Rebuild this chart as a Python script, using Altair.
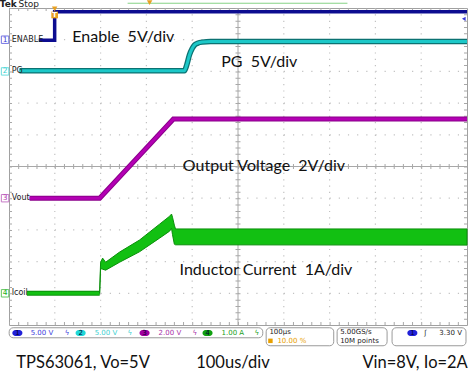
import altair as alt
import pandas as pd

# ---------------- data: time in µs (100 µs/div, trigger at 10 %) ----------------
# CH1 ENABLE (V)  5 V/div, ground marker at +4 div
en_t = [-35, -0.3, -0.3, 900]
en_v = [-0.1, -0.1, 4.4, 4.4]
# CH2 PG (V)  5 V/div, ground marker at +3 div
pg_t = [-77, 283, 288, 294, 300, 305, 312, 322, 340, 900]
pg_v = [0.1, 0.1, 1.0, 2.6, 3.6, 4.15, 4.45, 4.62, 4.7, 4.72]
# CH3 Vout (V)  2 V/div, ground marker at -1 div
vo_t = [-55, 98, 259, 900]
vo_v = [0.0, 0.0, 5.0, 5.0]
# CH4 Icoil (A)  1 A/div, ground marker at -4 div
il_flat_t = [-61, 98]
il_flat_v = [0.0, 0.0]
il_t = [97.9, 100, 104.4, 111, 141.5, 185, 228.7, 250.6, 254.9, 257, 261, 263.6, 900]
il_hi = [0.0, 0.98, 1.11, 0.98, 1.30, 1.68, 2.18, 2.43, 2.50, 2.40, 2.15, 2.03, 2.03]
il_lo = [0.0, 0.78, 0.76, 0.73, 0.98, 1.31, 1.74, 1.96, 2.05, 1.85, 1.55, 1.53, 1.52]

ch_names = ["ENABLE", "PG", "Vout", "Icoil"]
ch_nums = ["1", "2", "3", "4"]
ch_offset = [4, 3, -1, -4]
ch_scale = [5.0, 5.0, 2.0, 1.0]
ch_color = ["#1414a8", "#1cc8c8", "#b400b4", "#12c012"]
ch_label_color = ["#3a3ad8", "#30d0d0", "#b040b0", "#20b020"]
ch_readout = ["5.00 V", "5.00 V", "2.00 V", "1.00 A"]

ann_text = ["Enable\u00a0 5V/div", "PG\u00a0 5V/div", "Output Voltage\u00a0 2V/div",
            "Inductor Current\u00a0 1A/div"]
ann_t = [38.3, 363.3, 279.6, 272.4]
ann_d = [3.94, 3.15, -0.14, -3.43]

cap_text = ["TPS63061, Vo=5V", "100us/div", "Vin=8V, Io=2A"]
cap_t = [-83.9, 308.8, 671.6]
cap_d = [-6.37, -6.37, -6.37]

grid_t = [0, 100, 200, 300, 500, 600, 700, 800]
grid_d = [-4, -3, -2, -1, 1, 2, 3, 4]

# ---------------- scales ----------------
XS = alt.Scale(domain=[-100, 900], nice=False, zero=False)
YS = alt.Scale(domain=[-5, 5], nice=False, zero=False)


def X(field=None, datum=None):
    if datum is not None:
        return alt.X(datum=datum, scale=XS, axis=None)
    return alt.X(field, type="quantitative", scale=XS, axis=None)


def X2(field=None, datum=None):
    if datum is not None:
        return alt.X2(datum=datum)
    return alt.X2(field)


def Y(field=None, datum=None):
    if datum is not None:
        return alt.Y(datum=datum, scale=YS, axis=None)
    return alt.Y(field, type="quantitative", scale=YS, axis=None)


def Y2(field=None, datum=None):
    if datum is not None:
        return alt.Y2(datum=datum)
    return alt.Y2(field)


def to_div(vals, ch):
    return [ch_offset[ch] + v / ch_scale[ch] for v in vals]


layers = []
GRID = "#c2c2c2"
CENTER = "#a8a8a8"
DX = 9.16   # px per 0.2 div horizontally
DY = 6.34   # px per 0.2 div vertically

# dotted graticule
gv = pd.DataFrame({"t": grid_t})
gh = pd.DataFrame({"d": grid_d})
layers.append(alt.Chart(gv).mark_rule(stroke=GRID, strokeWidth=1.2, strokeDash=[1.2, DY - 1.2])
              .encode(x=X("t"), y=Y(datum=5), y2=Y2(datum=-5)))
layers.append(alt.Chart(gh).mark_rule(stroke=GRID, strokeWidth=1.2, strokeDash=[1.2, DX - 1.2])
              .encode(y=Y("d"), x=X(datum=-100), x2=X2(datum=900)))
# centre lines with minor ticks
cen = pd.DataFrame({"t": [400], "d": [0]})
layers.append(alt.Chart(cen).mark_rule(stroke=CENTER, strokeWidth=1)
              .encode(x=X("t"), y=Y(datum=5), y2=Y2(datum=-5)))
layers.append(alt.Chart(cen).mark_rule(stroke=CENTER, strokeWidth=1)
              .encode(y=Y("d"), x=X(datum=-100), x2=X2(datum=900)))
layers.append(alt.Chart(cen).mark_rule(stroke=CENTER, strokeWidth=5, strokeDash=[1, DY - 1])
              .encode(x=X("t"), y=Y(datum=5), y2=Y2(datum=-5)))
layers.append(alt.Chart(cen).mark_rule(stroke=CENTER, strokeWidth=5, strokeDash=[1, DX - 1])
              .encode(y=Y("d"), x=X(datum=-100), x2=X2(datum=900)))
# border ticks (inside)
bh = pd.DataFrame({"d": [4.953, -4.953]})
bv = pd.DataFrame({"t": [-96.7, 896.7]})
layers.append(alt.Chart(bh).mark_rule(stroke=CENTER, strokeWidth=3, strokeDash=[1, DX - 1])
              .encode(y=Y("d"), x=X(datum=-100), x2=X2(datum=900)))
layers.append(alt.Chart(bv).mark_rule(stroke=CENTER, strokeWidth=3, strokeDash=[1, DY - 1])
              .encode(x=X("t"), y=Y(datum=5), y2=Y2(datum=-5)))

# ---------------- traces ----------------
en = pd.DataFrame({"t": en_t, "d": to_div(en_v, 0)})
pg = pd.DataFrame({"t": pg_t, "d": to_div(pg_v, 1)})
vo = pd.DataFrame({"t": vo_t, "d": to_div(vo_v, 2)})
ilf = pd.DataFrame({"t": il_flat_t, "d": to_div(il_flat_v, 3)})
il = pd.DataFrame({"t": il_t, "hi": to_div(il_hi, 3), "lo": to_div(il_lo, 3)})

layers.append(alt.Chart(en).mark_line(color="#0c0c90", strokeWidth=3.5)
              .encode(x=X("t"), y=Y("d")))
layers.append(alt.Chart(pg).mark_line(color="#0b7272", strokeWidth=5.5, interpolate="monotone")
              .encode(x=X("t"), y=Y("d")))
layers.append(alt.Chart(pg).mark_line(color=ch_color[1], strokeWidth=3, interpolate="monotone")
              .encode(x=X("t"), y=Y("d")))
layers.append(alt.Chart(vo).mark_line(color="#8a008a", strokeWidth=5)
              .encode(x=X("t"), y=Y("d")))
layers.append(alt.Chart(vo).mark_line(color=ch_color[2], strokeWidth=3)
              .encode(x=X("t"), y=Y("d")))
layers.append(alt.Chart(ilf).mark_line(color="#0b8f0b", strokeWidth=5)
              .encode(x=X("t"), y=Y("d")))
layers.append(alt.Chart(ilf).mark_line(color=ch_color[3], strokeWidth=3)
              .encode(x=X("t"), y=Y("d")))
layers.append(alt.Chart(il).mark_area(color=ch_color[3], stroke="#0b8f0b", strokeWidth=1)
              .encode(x=X("t"), y=Y("hi"), y2=Y2("lo")))

# ---------------- annotations ----------------
ann = pd.DataFrame({"t": ann_t, "d": ann_d, "text": ann_text})
layers.append(alt.Chart(ann).mark_text(font="Lato", fontSize=16, align="left", baseline="alphabetic",
                                       color="#111111")
              .encode(x=X("t"), y=Y("d"), text="text:N"))
cap = pd.DataFrame({"t": cap_t, "d": cap_d, "text": cap_text})
layers.append(alt.Chart(cap).mark_text(font="Lato", fontSize=16.5, align="left",
                                       baseline="alphabetic", color="#111111")
              .encode(x=X("t"), y=Y("d"), text="text:N"))

# channel ground markers & labels on the left
lab = pd.DataFrame({
    "t": [-108.6] * 4,
    "tl": [-94.1] * 4,
    "d": [ch_offset[i] for i in range(4)],
    "num": ch_nums, "name": ch_names, "color": ch_label_color,
})
layers.append(alt.Chart(lab).mark_point(shape="square", size=55, filled=True, fill="white",
                                        strokeWidth=1)
              .encode(x=X("t"), y=Y("d"), stroke=alt.Stroke("color:N", scale=None)))
layers.append(alt.Chart(lab).mark_text(font="DejaVu Sans", fontSize=7.5, align="center",
                                       baseline="middle")
              .encode(x=X("t"), y=Y("d"), text="num:N", color=alt.Color("color:N", scale=None)))
layers.append(alt.Chart(lab).mark_text(font="DejaVu Sans", fontSize=8, align="left",
                                       baseline="middle", color="#222222")
              .encode(x=X("tl"), y=Y("d"), text="name:N"))

# header "Tek Stop", record bar & trigger markers
hdr1 = pd.DataFrame({"t": [-120.3], "d": [5.13], "text": ["Tek"]})
hdr2 = pd.DataFrame({"t": [-79.0], "d": [5.13], "text": ["Stop"]})
layers.append(alt.Chart(hdr1).mark_text(font="DejaVu Sans", fontSize=9, fontWeight="bold",
                                        align="left", baseline="middle", color="#222222")
              .encode(x=X("t"), y=Y("d"), text="text:N"))
layers.append(alt.Chart(hdr2).mark_text(font="DejaVu Sans", fontSize=9,
                                        align="left", baseline="middle", color="#222222")
              .encode(x=X("t"), y=Y("d"), text="text:N"))
rec = pd.DataFrame({"t1": [159], "t2": [639], "d": [5.15]})
layers.append(alt.Chart(rec).mark_rule(stroke="#86d286", strokeWidth=1)
              .encode(x=X("t1"), x2=X2("t2"), y=Y("d")))
mk = pd.DataFrame({"t": [207, -0.3], "d": [5.17, 4.97]})
layers.append(alt.Chart(mk).mark_point(shape="triangle-down", size=30, filled=True,
                                       color="#e8a020", opacity=1)
              .encode(x=X("t"), y=Y("d")))
trg = pd.DataFrame({"t": [-0.3], "d": [4.78], "text": ["T"]})
layers.append(alt.Chart(trg).mark_point(shape="square", size=45, filled=True, color="#e8a020",
                                        opacity=1)
              .encode(x=X("t"), y=Y("d")))
layers.append(alt.Chart(trg).mark_text(font="DejaVu Sans", fontSize=7, fontWeight="bold",
                                       color="white", baseline="middle")
              .encode(x=X("t"), y=Y("d"), text="text:N"))
lvl = pd.DataFrame({"t": [893], "d": [4.66]})
layers.append(alt.Chart(lvl).mark_point(shape="triangle-left", size=18, filled=True,
                                        color="#3a3ad8", opacity=1)
              .encode(x=X("t"), y=Y("d")))

# ---------------- status bar ----------------
boxes = pd.DataFrame({"t1": [-99.6, 461.5, 616.4, 736.4],
                      "t2": [454.1, 609.0, 725.5, 897.8],
                      "d1": [-5.087] * 4,
                      "d2": [-5.403, -5.655, -5.655, -5.655]})
layers.append(alt.Chart(boxes).mark_rect(fill="white", stroke="#9a9a9a", strokeWidth=1,
                                         cornerRadius=4)
              .encode(x=X("t1"), x2=X2("t2"), y=Y("d1"), y2=Y2("d2")))
ell = pd.DataFrame({"t": [-81.7, 56.4, 196.0, 333.5, 780.7],
                    "num": ["1", "2", "3", "4", "1"],
                    "color": ["#2020d8", "#20d8d8", "#a000a0", "#10a010", "#2020d8"]})
ell["t1"] = ell["t"] - 11
ell["t2"] = ell["t"] + 11
ell["d"] = -5.254
ell["d1"] = -5.254 + 0.095
ell["d2"] = -5.254 - 0.095
layers.append(alt.Chart(ell).mark_rect(cornerRadius=3)
              .encode(x=X("t1"), x2=X2("t2"), y=Y("d1"), y2=Y2("d2"),
                      color=alt.Color("color:N", scale=None)))
layers.append(alt.Chart(ell).mark_text(font="DejaVu Sans", fontSize=7, color="#000033",
                                       baseline="middle")
              .encode(x=X("t"), y=Y("d"), text="num:N"))

st = pd.DataFrame({
    "t": [-52.7, 87.0, 226.6, 364.0, 21.5, 159.0, 300.8, 436.0,
          468.6, 486.0, 623.0, 623.0, 806.9, 839.6],
    "d": [-5.254] * 8 + [-5.215, -5.50, -5.215, -5.50, -5.254, -5.254],
    "text": ch_readout + ["ϟ", "ϟ", "ϟ", "ϟ",
                          "100µs", "10.00 %", "5.00GS/s", "10M points", "ʃ", "3.30 V"],
    "color": ["#3c3cdc", "#40d0d0", "#a830a8", "#20a020",
              "#3c3cdc", "#40d0d0", "#a830a8", "#20a020",
              "#222222", "#e8a000", "#222222", "#222222", "#222222", "#222222"],
})
layers.append(alt.Chart(st).mark_text(font="DejaVu Sans", fontSize=7, align="left",
                                       baseline="middle")
              .encode(x=X("t"), y=Y("d"), text="text:N",
                      color=alt.Color("color:N", scale=None)))
tb = pd.DataFrame({"t": [470.8], "d": [-5.50], "text": ["T"]})
layers.append(alt.Chart(tb).mark_point(shape="square", size=20, filled=True, color="#e8a000",
                                       opacity=1)
              .encode(x=X("t"), y=Y("d")))

chart = alt.layer(*layers).properties(
    width=458, height=317,
    padding={"left": 9, "top": 8, "right": 5, "bottom": 53},
    autosize=alt.AutoSizeParams(type="none"),
    background="white",
).configure_view(stroke="#a0a0a0", strokeWidth=1)

chart.save("out.html", embed_options={"renderer": "svg", "actions": False})
